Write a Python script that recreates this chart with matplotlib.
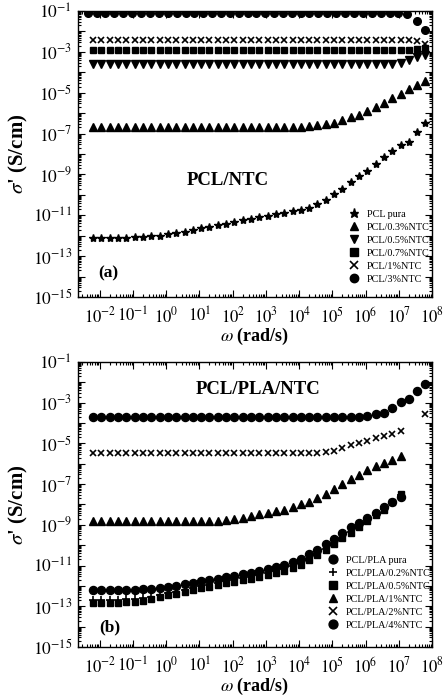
import numpy as np
import matplotlib
matplotlib.use("Agg")
import matplotlib.pyplot as plt
from matplotlib.ticker import LogLocator, FuncFormatter, NullFormatter

plt.rcParams['font.family'] = ['Liberation Serif', 'DejaVu Serif']
plt.rcParams['mathtext.fontset'] = 'stix'

# ---------------- data (log10 values) ----------------
# common angular frequency grid, log10(omega / rad s^-1)
log_omega = [-2.2, -1.95, -1.7, -1.45, -1.2, -0.95, -0.7, -0.45, -0.2, 0.05,
             0.3, 0.55, 0.8, 1.05, 1.3, 1.55, 1.8, 2.05, 2.3, 2.55,
             2.8, 3.05, 3.3, 3.55, 3.8, 4.05, 4.3, 4.55, 4.8, 5.05,
             5.3, 5.55, 5.8, 6.05, 6.3, 6.55, 6.8, 7.05, 7.3, 7.55, 7.8]
# frequency grid of the PCL/3%NTC series
log_omega_3 = [-2.36, -2.09, -1.83, -1.56, -1.29, -1.03, -0.76, -0.49, -0.22, 0.04,
               0.31, 0.58, 0.84, 1.11, 1.38, 1.64, 1.91, 2.18, 2.45, 2.71,
               2.98, 3.25, 3.51, 3.78, 4.05, 4.31, 4.58, 4.85, 5.12, 5.38,
               5.65, 5.92, 6.18, 6.45, 6.72, 6.98, 7.25, 7.55, 7.8]

# panel (a): PCL/NTC
a_labels = ['PCL pura', 'PCL/0.3%NTC', 'PCL/0.5%NTC', 'PCL/0.7%NTC', 'PCL/1%NTC', 'PCL/3%NTC']
a_pura = [-12.10, -12.10, -12.10, -12.10, -12.09, -12.08, -12.06, -12.03, -11.99, -11.94,
          -11.88, -11.80, -11.72, -11.64, -11.56, -11.49, -11.41, -11.33, -11.25, -11.17,
          -11.10, -11.02, -10.95, -10.88, -10.81, -10.73, -10.62, -10.45, -10.24, -9.98,
          -9.69, -9.38, -9.09, -8.82, -8.49, -8.17, -7.85, -7.56, -7.40, -6.92, -6.47]
a_03 = [-6.67, -6.67, -6.67, -6.67, -6.67, -6.67, -6.67, -6.67, -6.67, -6.67,
        -6.67, -6.67, -6.67, -6.67, -6.67, -6.67, -6.67, -6.67, -6.67, -6.67,
        -6.67, -6.67, -6.67, -6.67, -6.67, -6.66, -6.64, -6.60, -6.54, -6.47,
        -6.34, -6.21, -6.08, -5.89, -5.72, -5.49, -5.28, -5.07, -4.84, -4.63, -4.41]
a_05 = [-3.61, -3.61, -3.61, -3.61, -3.61, -3.61, -3.61, -3.61, -3.61, -3.61,
        -3.61, -3.61, -3.61, -3.61, -3.61, -3.61, -3.61, -3.61, -3.61, -3.61,
        -3.61, -3.61, -3.61, -3.61, -3.61, -3.61, -3.61, -3.61, -3.61, -3.61,
        -3.61, -3.61, -3.61, -3.61, -3.61, -3.61, -3.60, -3.55, -3.38, -3.26, -3.16]
a_07 = [-2.92, -2.92, -2.92, -2.92, -2.92, -2.92, -2.92, -2.92, -2.92, -2.92,
        -2.92, -2.92, -2.92, -2.92, -2.92, -2.92, -2.92, -2.92, -2.92, -2.92,
        -2.92, -2.92, -2.92, -2.92, -2.92, -2.92, -2.92, -2.92, -2.92, -2.92,
        -2.92, -2.92, -2.92, -2.92, -2.92, -2.92, -2.92, -2.92, -2.91, -2.85, -2.82]
a_1 = [-2.42, -2.42, -2.42, -2.42, -2.42, -2.42, -2.42, -2.42, -2.42, -2.42,
       -2.42, -2.42, -2.42, -2.42, -2.42, -2.42, -2.42, -2.42, -2.42, -2.42,
       -2.42, -2.42, -2.42, -2.42, -2.42, -2.42, -2.42, -2.42, -2.42, -2.42,
       -2.42, -2.42, -2.42, -2.42, -2.42, -2.42, -2.42, -2.42, -2.42, -2.46, -2.62]
a_3 = [-1.08, -1.08, -1.08, -1.08, -1.08, -1.08, -1.08, -1.08, -1.08, -1.08,
       -1.08, -1.08, -1.08, -1.08, -1.08, -1.08, -1.08, -1.08, -1.08, -1.08,
       -1.08, -1.08, -1.08, -1.08, -1.08, -1.08, -1.08, -1.08, -1.08, -1.08,
       -1.08, -1.08, -1.09, -1.10, -1.11, -1.12, -1.15, -1.47, -1.93]

# panel (b): PCL/PLA/NTC
nan = float('nan')
b_labels = ['PCL/PLA pura', 'PCL/PLA/0.2%NTC', 'PCL/PLA/0.5%NTC', 'PCL/PLA/1%NTC',
            'PCL/PLA/2%NTC', 'PCL/PLA/4%NTC']
b_pura = [-12.20, -12.20, -12.20, -12.20, -12.19, -12.18, -12.16, -12.13, -12.09, -12.04,
          -11.98, -11.92, -11.85, -11.78, -11.71, -11.64, -11.57, -11.50, -11.43, -11.36,
          -11.27, -11.17, -11.07, -10.97, -10.84, -10.66, -10.45, -10.22, -9.94, -9.68,
          -9.40, -9.12, -8.90, -8.66, -8.40, -8.13, -7.88, -7.65, nan, nan, nan]
b_02 = [-12.67, -12.67, -12.67, -12.67, -12.66, -12.64, -12.60, -12.54, -12.46, -12.37,
        -12.28, -12.19, -12.10, -12.01, -11.93, -11.85, -11.77, -11.69, -11.62, -11.55,
        -11.47, -11.38, -11.28, -11.17, -11.03, -10.87, -10.67, -10.44, -10.18, -9.91,
        -9.63, -9.34, -9.06, -8.79, -8.51, -8.23, -7.91, -7.52, nan, nan, nan]
b_05 = [-12.82, -12.82, -12.82, -12.82, -12.80, -12.77, -12.72, -12.65, -12.56, -12.47,
        -12.38, -12.29, -12.20, -12.11, -12.03, -11.95, -11.87, -11.79, -11.71, -11.64,
        -11.56, -11.47, -11.37, -11.26, -11.12, -10.95, -10.74, -10.50, -10.24, -9.96,
        -9.67, -9.38, -9.10, -8.82, -8.53, -8.25, -7.90, -7.47, nan, nan, nan]
b_1 = [-8.83, -8.83, -8.83, -8.83, -8.83, -8.83, -8.83, -8.83, -8.83, -8.83,
       -8.83, -8.83, -8.83, -8.83, -8.83, -8.81, -8.78, -8.72, -8.65, -8.58,
       -8.48, -8.42, -8.34, -8.25, -8.12, -7.99, -7.88, -7.66, -7.47, -7.22,
       -6.98, -6.73, -6.53, -6.32, -6.13, -5.96, -5.83, -5.63, nan, nan, nan]
b_2 = [-5.47, -5.47, -5.47, -5.47, -5.47, -5.47, -5.47, -5.47, -5.47, -5.47,
       -5.47, -5.47, -5.47, -5.47, -5.47, -5.47, -5.47, -5.47, -5.47, -5.47,
       -5.47, -5.47, -5.47, -5.47, -5.47, -5.47, -5.47, -5.46, -5.43, -5.37,
       -5.23, -5.10, -4.98, -4.86, -4.74, -4.62, -4.52, -4.39, nan, nan, -3.54]
b_4 = [-3.71, -3.71, -3.71, -3.71, -3.71, -3.71, -3.71, -3.71, -3.71, -3.71,
       -3.71, -3.71, -3.71, -3.71, -3.71, -3.71, -3.71, -3.71, -3.71, -3.71,
       -3.71, -3.71, -3.71, -3.71, -3.71, -3.71, -3.71, -3.71, -3.71, -3.71,
       -3.71, -3.70, -3.68, -3.65, -3.58, -3.50, -3.27, -2.97, -2.84, -2.45, -2.06]

# ---------------- figure ----------------
fig = plt.figure(figsize=(4.45, 7.0), dpi=100)
ax_a = fig.add_axes([0.175, 0.5757, 0.796, 0.4086])
ax_b = fig.add_axes([0.175, 0.0757, 0.796, 0.4072])


def p(v):
    return 10.0 ** np.asarray(v, dtype=float)


w = p(log_omega)
w3 = p(log_omega_3)

ms = 5.2
kw = dict(linestyle='none', color='black')
ax_a.plot(w, p(a_pura), marker='*', markersize=ms + 0.8, label=a_labels[0], **kw)
ax_a.plot(w, p(a_03), marker='^', markersize=ms, label=a_labels[1], **kw)
ax_a.plot(w, p(a_05), marker='v', markersize=ms, label=a_labels[2], **kw)
ax_a.plot(w, p(a_07), marker='s', markersize=ms - 0.6, label=a_labels[3], **kw)
ax_a.plot(w, p(a_1), marker='x', markersize=ms - 0.6, markeredgewidth=1.2, label=a_labels[4], **kw)
ax_a.plot(w3, p(a_3), marker='o', markersize=ms + 0.3, label=a_labels[5], **kw)

ax_b.plot(w, p(b_pura), marker='o', markersize=ms + 0.6, label=b_labels[0], **kw)
ax_b.plot(w, p(b_02), marker='+', markersize=ms, markeredgewidth=1.2, label=b_labels[1], **kw)
ax_b.plot(w, p(b_05), marker='s', markersize=ms - 0.4, label=b_labels[2], **kw)
ax_b.plot(w, p(b_1), marker='^', markersize=ms, label=b_labels[3], **kw)
ax_b.plot(w, p(b_2), marker='x', markersize=ms - 0.4, markeredgewidth=1.2, label=b_labels[4], **kw)
ax_b.plot(w, p(b_4), marker='o', markersize=ms + 0.6, label=b_labels[5], **kw)


def fmt_pow(v, pos):
    e = int(round(np.log10(v)))
    return r'$10^{%d}$' % e


def fmt_pow_odd(v, pos):
    e = int(round(np.log10(v)))
    if e % 2 == 0:
        return ''
    return r'$10^{%d}$' % e


for ax in (ax_a, ax_b):
    ax.set_xscale('log')
    ax.set_yscale('log')
    ax.set_xlim(10 ** -2.66, 10 ** 8)
    ax.set_ylim(10.0 ** -15, 10.0 ** -1)
    ax.xaxis.set_major_locator(LogLocator(base=10, numticks=30))
    ax.xaxis.set_minor_locator(LogLocator(base=10, subs=np.arange(2, 10), numticks=200))
    ax.yaxis.set_major_locator(LogLocator(base=10, numticks=30))
    ax.yaxis.set_minor_locator(LogLocator(base=10, subs=np.arange(2, 10), numticks=200))
    ax.xaxis.set_major_formatter(FuncFormatter(fmt_pow))
    ax.yaxis.set_major_formatter(FuncFormatter(fmt_pow_odd))
    ax.xaxis.set_minor_formatter(NullFormatter())
    ax.yaxis.set_minor_formatter(NullFormatter())
    ax.tick_params(which='both', direction='in', top=True, right=True, width=0.8)
    ax.tick_params(which='major', length=5)
    ax.tick_params(which='minor', length=2.5)
    ax.tick_params(axis='x', which='major', labelsize=12, pad=7)
    ax.tick_params(axis='y', which='major', labelsize=12.5, pad=4)
    for s in ax.spines.values():
        s.set_linewidth(1.0)
    ax.set_ylabel(r"$\sigma$' (S/cm)", fontsize=15, fontweight='bold')
    ax.set_xlabel(r"$\omega$ (rad/s)", fontsize=13, fontweight='bold')
    ax.yaxis.set_label_coords(-0.135, 0.5)
    ax.xaxis.set_label_coords(0.5, -0.10)

leg_kw = dict(frameon=False, fontsize=7.3, handlelength=1.0, handletextpad=0.8,
              labelspacing=0.38, borderpad=0.2, loc='upper left', markerscale=1.1)
ax_a.legend(bbox_to_anchor=(0.745, 0.33), **leg_kw)
ax_b.legend(bbox_to_anchor=(0.685, 0.345), **leg_kw)

ax_a.text(0.424, 0.409, 'PCL/NTC', transform=ax_a.transAxes, ha='center', va='center',
          fontsize=13.5, fontweight='bold')
ax_a.text(0.085, 0.084, '(a)', transform=ax_a.transAxes, ha='center', va='center',
          fontsize=12.5, fontweight='bold')
ax_b.text(0.508, 0.905, 'PCL/PLA/NTC', transform=ax_b.transAxes, ha='center', va='center',
          fontsize=13.5, fontweight='bold')
ax_b.text(0.09, 0.07, '(b)', transform=ax_b.transAxes, ha='center', va='center',
          fontsize=12.5, fontweight='bold')

fig.savefig('out.png', dpi=100)
